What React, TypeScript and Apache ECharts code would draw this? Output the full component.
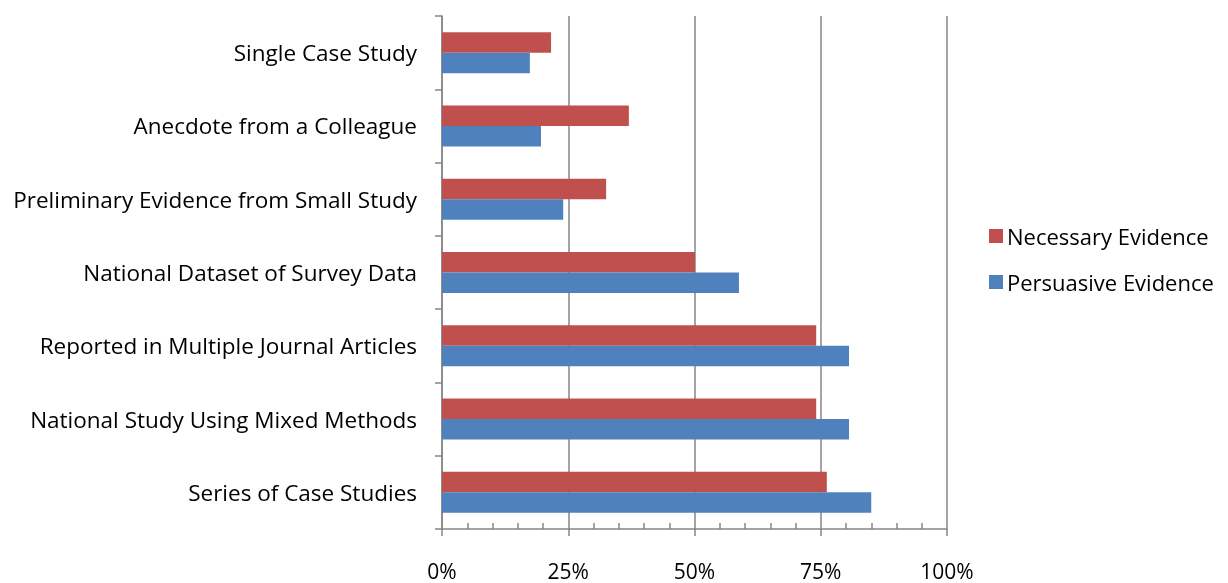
import React, { useEffect, useRef } from "react";
import * as echarts from "echarts";

// Categories listed bottom-to-top (first category sits at the bottom of a y category axis)
const categories = [
  "Series of Case Studies",
  "National Study Using Mixed Methods",
  "Reported in Multiple Journal Articles",
  "National Dataset of Survey Data",
  "Preliminary Evidence from Small Study",
  "Anecdote from a Colleague",
  "Single Case Study",
];

const persuasiveEvidence = [85.0, 80.6, 80.6, 58.8, 24.0, 19.6, 17.4];
const necessaryEvidence = [76.2, 74.1, 74.1, 50.1, 32.5, 37.0, 21.6];

const xTicks = [0, 25, 50, 75, 100];

const FONT = "'Open Sans', sans-serif";
const GRAY = "#868686";

export default function App() {
  const ref = useRef<HTMLDivElement>(null);

  useEffect(() => {
    if (!ref.current) return;
    const chart = echarts.init(ref.current, undefined, { renderer: "svg" });
    chart.setOption({
      animation: false,
      textStyle: { fontFamily: FONT, color: "#000" },
      grid: { left: 442, right: 281, top: 16, bottom: 54, containLabel: false },
      legend: {
        orient: "vertical",
        left: 984,
        top: 220,
        itemWidth: 14,
        itemHeight: 14,
        itemGap: 24,
        icon: "rect",
        data: ["Necessary Evidence", "Persuasive Evidence"],
        textStyle: {
          fontSize: 22,
          lineHeight: 22,
          color: "#000",
          fontFamily: FONT,
          padding: [0, 0, 0, -1],
        },
      },
      xAxis: [
        {
          type: "value",
          min: xTicks[0],
          max: xTicks[xTicks.length - 1],
          interval: 25,
          position: "bottom",
          axisLine: { show: true, lineStyle: { color: GRAY, width: 1.5 } },
          axisTick: { show: true, inside: false, length: 7, lineStyle: { color: GRAY, width: 1.5 } },
          axisLabel: {
            formatter: "{value}%",
            fontSize: 21,
            lineHeight: 21,
            color: "#000",
            margin: 31,
            fontFamily: FONT,
          },
          splitLine: { show: true, lineStyle: { color: GRAY, width: 1.5 } },
        },
        {
          // overlay axis that carries the inward minor ticks
          type: "value",
          min: xTicks[0],
          max: xTicks[xTicks.length - 1],
          interval: 25,
          position: "bottom",
          offset: 0,
          axisLine: { show: false },
          axisTick: { show: false, inside: true },
          axisLabel: { show: false },
          splitLine: { show: false },
          minorTick: { show: true, splitNumber: 5, length: 6, lineStyle: { color: GRAY, width: 1.5 } },
        },
      ],
      yAxis: {
        type: "category",
        data: categories,
        axisLine: { show: true, lineStyle: { color: GRAY, width: 1.5 } },
        axisTick: { show: true, inside: false, length: 7, lineStyle: { color: GRAY, width: 1.5 } },
        axisLabel: { fontSize: 22.5, color: "#000", margin: 25, fontFamily: FONT },
        splitLine: { show: false },
      },
      series: [
        {
          name: "Necessary Evidence",
          type: "bar",
          xAxisIndex: 0,
          data: necessaryEvidence,
          barWidth: 20.5,
          barGap: "0%",
          itemStyle: { color: "#C0504D" },
        },
        {
          name: "Persuasive Evidence",
          type: "bar",
          xAxisIndex: 0,
          data: persuasiveEvidence,
          barWidth: 20.5,
          barGap: "0%",
          itemStyle: { color: "#4F81BD" },
        },
      ],
    });
    return () => chart.dispose();
  }, []);

  return (
    <div
      ref={ref}
      style={{ position: "fixed", left: 0, top: 0, width: 1228, height: 583 }}
    />
  );
}
